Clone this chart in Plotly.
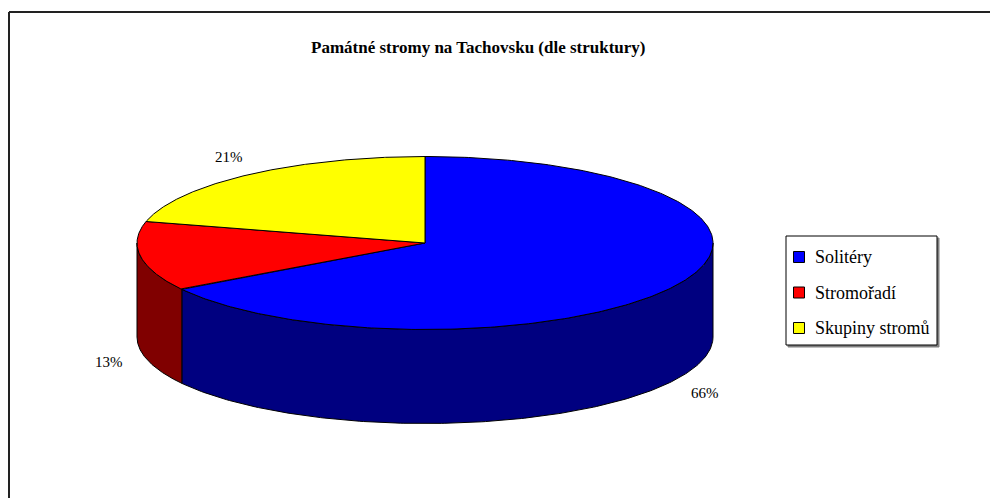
import numpy as np
import plotly.graph_objects as go

# ---- data ----
categories = ["Solitéry", "Stromořadí", "Skupiny stromů"]
values = [66, 13, 21]
title_text = "Památné stromy na Tachovsku (dle struktury)"

# ---- style ----
top_colors = ["#0000FF", "#FF0000", "#FFFF00"]
side_colors = ["#000080", "#800000", "#808000"]
W, H = 990, 498
cx, cy = 425, 243          # centre of top ellipse (px)
rx, ry = 288, 86.5         # ellipse radii (px)
depth = 94                 # pie thickness (px)
serif = "Liberation Serif, Times New Roman, serif"

def ex(t):
    return cx + rx * np.sin(np.radians(t))

def ey(t, dz=0.0):
    return cy - ry * np.cos(np.radians(t)) + dz

total = float(sum(values))
bounds = np.concatenate([[0], np.cumsum(values)]) / total * 360.0

fig = go.Figure()

# side walls (front half only: 90..270 degrees)
for i in range(len(values)):
    a0, a1 = bounds[i], bounds[i + 1]
    s0, s1 = max(a0, 90), min(a1, 270)
    if s1 <= s0:
        continue
    t = np.linspace(s0, s1, 200)
    xs = np.concatenate([ex(t), ex(t[::-1])])
    ys = np.concatenate([ey(t), ey(t[::-1], depth)])
    xs = np.append(xs, xs[0]); ys = np.append(ys, ys[0])
    fig.add_trace(go.Scatter(x=xs, y=ys, mode="lines", fill="toself",
                             fillcolor=side_colors[i],
                             line=dict(color="black", width=1),
                             hoverinfo="skip", showlegend=False))

# top faces
for i in range(len(values)):
    a0, a1 = bounds[i], bounds[i + 1]
    t = np.linspace(a0, a1, 300)
    xs = np.concatenate([[cx], ex(t), [cx]])
    ys = np.concatenate([[cy], ey(t), [cy]])
    fig.add_trace(go.Scatter(x=xs, y=ys, mode="lines", fill="toself",
                             fillcolor=top_colors[i],
                             line=dict(color="black", width=1),
                             hoverinfo="skip", showlegend=False))

annotations = []
# percentage labels
f = 1.11
for i, v in enumerate(values):
    tm = (bounds[i] + bounds[i + 1]) / 2
    front = np.cos(np.radians(tm)) < 0
    lx = cx + rx * f * np.sin(np.radians(tm))
    ly = (cy + depth if front else cy) - ry * f * np.cos(np.radians(tm))
    annotations.append(dict(x=lx, y=ly, xref="x", yref="y", text=f"{v}%",
                            showarrow=False, xanchor="center",
                            yanchor="top" if front else "bottom",
                            font=dict(family=serif, size=15, color="black")))

# title
annotations.append(dict(x=478, y=47, xref="x", yref="y", text=f"<b>{title_text}</b>",
                        showarrow=False, xanchor="center", yanchor="middle",
                        font=dict(family=serif, size=17, color="black")))

# legend (custom)
lg_x0, lg_y0, lg_x1, lg_y1 = 786, 236, 937, 345
row0, row_step = 257, 35.5
shapes = [
    dict(type="rect", xref="x", yref="y", x0=lg_x0 + 2, y0=lg_y0 + 2, x1=lg_x1 + 2, y1=lg_y1 + 2,
         line=dict(color="#808080", width=1), fillcolor="#808080", layer="below"),
    dict(type="rect", xref="x", yref="y", x0=lg_x0, y0=lg_y0, x1=lg_x1, y1=lg_y1,
         line=dict(color="black", width=1), fillcolor="white", layer="below"),
    # chart frame
    dict(type="line", xref="x", yref="y", x0=9, y0=12, x1=W + 5, y1=12,
         line=dict(color="#222222", width=2)),
    dict(type="line", xref="x", yref="y", x0=9, y0=12, x1=9, y1=H + 5,
         line=dict(color="#222222", width=2)),
]
ly_rows = [row0 + k * row_step for k in range(len(categories))]
fig.add_trace(go.Scatter(x=[799] * len(categories), y=ly_rows, mode="markers",
                         marker=dict(symbol="square", size=11, color=top_colors,
                                     line=dict(color="black", width=1)),
                         hoverinfo="skip", showlegend=False))
for k, name in enumerate(categories):
    annotations.append(dict(x=813, y=ly_rows[k], xref="x", yref="y", text=name,
                            showarrow=False, xanchor="left", yanchor="middle",
                            font=dict(family=serif, size=18, color="black")))

fig.update_layout(
    width=W, height=H,
    margin=dict(l=0, r=0, t=0, b=0),
    paper_bgcolor="white", plot_bgcolor="white",
    xaxis=dict(range=[0, W], visible=False, fixedrange=True),
    yaxis=dict(range=[H, 0], visible=False, fixedrange=True),
    annotations=annotations, shapes=shapes,
    showlegend=False,
)

fig.write_html("out.html",
               config={"displayModeBar": False},
               post_script="document.body.style.margin='0';document.body.style.overflow='hidden';")
